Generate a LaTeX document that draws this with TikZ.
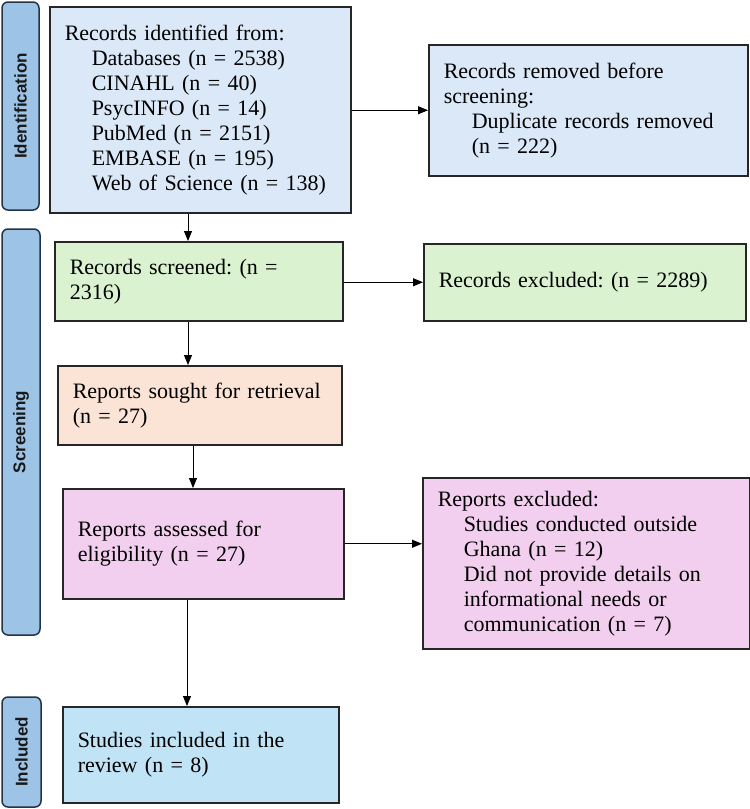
\documentclass[tikz,border=0pt]{standalone}
\usepackage{fontspec}
\setmainfont{Liberation Serif}
\setsansfont{Liberation Sans}
\usetikzlibrary{arrows.meta,calc}
\definecolor{prsidblue}{RGB}{219,232,247}
\definecolor{prsgreen}{RGB}{218,242,208}
\definecolor{prssalmon}{RGB}{251,227,214}
\definecolor{prspink}{RGB}{242,207,238}
\definecolor{prscyan}{RGB}{192,228,245}
\definecolor{prsbar}{RGB}{157,195,230}
\definecolor{prsbarline}{RGB}{36,52,70}
\frenchspacing

\begin{document}
\begin{tikzpicture}[x=1pt,y=-1pt,
  box/.style={draw=black!85,line width=1.5pt,anchor=north west,inner xsep=15pt,inner ysep=0pt,align=left,font=\fontsize{22}{25}\selectfont},
  bar/.style={draw=prsbarline,fill=prsbar,line width=1.5pt,rounded corners=6pt,rotate=90,inner sep=0pt,font=\sffamily\bfseries\fontsize{17}{18}\selectfont,text=black!90},
  arr/.style={-{Triangle[length=10pt,width=8pt]},line width=0.9pt}]
  \useasboundingbox (0,0) rectangle (750,809);
  \node[bar,minimum width=208pt,minimum height=37pt] (idbar) at (20.5,106) {Identification};
  \node[bar,minimum width=406pt,minimum height=38pt] (scrbar) at (21,432) {Screening};
  \node[bar,minimum width=110pt,minimum height=39pt] (incbar) at (21.5,752) {Included};
  \node[box,fill=prsidblue,text width=271pt,minimum height=206pt] (idbox) at (49,6)
    {Records identified from:\\\hspace*{27pt}Databases (n = 2538)\\\hspace*{27pt}CINAHL (n = 40)\\\hspace*{27pt}PsycINFO (n = 14)\\\hspace*{27pt}PubMed (n = 2151)\\\hspace*{27pt}EMBASE (n = 195)\\\hspace*{27pt}Web of Science (n = 138)};
  \node[box,fill=prsidblue,text width=289pt,minimum height=131pt] (removed) at (428,44)
    {Records removed before\\screening:\\\hspace*{28pt}Duplicate records removed\\\hspace*{28pt}(n = 222)};
  \node[box,fill=prsgreen,text width=258pt,minimum height=79pt] (screened) at (54,241)
    {Records screened: (n =\\2316)};
  \node[box,fill=prsgreen,text width=292pt,minimum height=77pt] (excluded) at (423,243)
    {Records excluded: (n = 2289)};
  \node[box,fill=prssalmon,text width=254pt,minimum height=79pt] (retrieval) at (57,365)
    {Reports sought for retrieval\\(n = 27)};
  \node[box,fill=prspink,text width=251pt,minimum height=110pt] (assessed) at (62,488)
    {Reports assessed for\\eligibility (n = 27)};
  \node[box,fill=prspink,text width=297pt,minimum height=171pt] (repexcl) at (422,477)
    {Reports excluded:\\\hspace*{26pt}Studies conducted outside\\\hspace*{26pt}Ghana (n = 12)\\\hspace*{26pt}Did not provide details on\\\hspace*{26pt}informational needs or\\\hspace*{26pt}communication (n = 7)};
  \node[box,fill=prscyan,text width=246pt,minimum height=96pt] (included) at (62,706)
    {Studies included in the\\review (n = 8)};
  \coordinate (colA) at (188,0);
  \coordinate (colB) at (193,0);
  \coordinate (colC) at (187,0);
  \draw[arr] (colA |- idbox.south) -- (colA |- screened.north);
  \draw[arr] (colA |- screened.south) -- (colA |- retrieval.north);
  \draw[arr] (colB |- retrieval.south) -- (colB |- assessed.north);
  \draw[arr] (colC |- assessed.south) -- (colC |- included.north);
  \draw[arr] (idbox.east |- removed.west) -- (removed.west);
  \draw[arr] (screened.east |- excluded.west) -- (excluded.west);
  \draw[arr] (assessed.east) -- (assessed.east -| repexcl.west);
\end{tikzpicture}
\end{document}
